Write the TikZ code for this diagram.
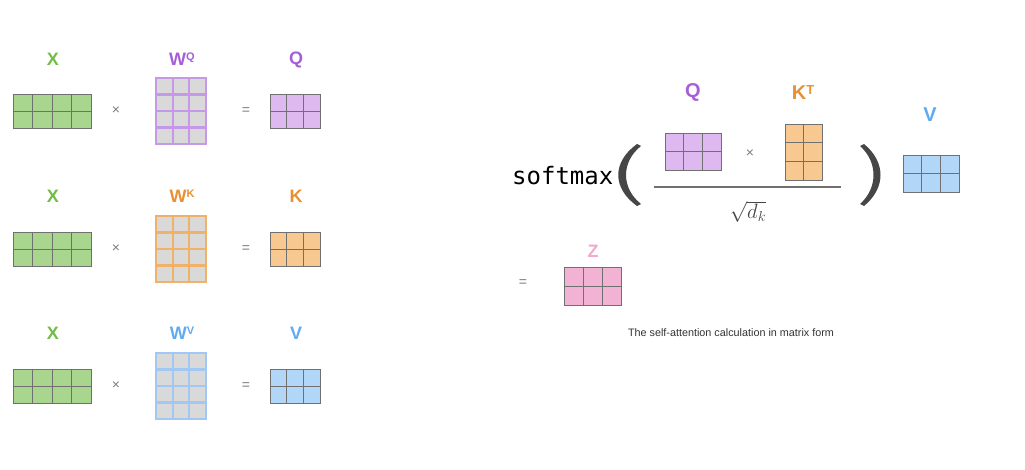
\documentclass[tikz,border=0pt]{standalone}
\usepackage{fontspec}
\setmainfont{Liberation Sans}
\newfontfamily\monofont{DejaVu Sans Mono}
\usetikzlibrary{calc}
\definecolor{greenfill}{RGB}{168,214,143}
\definecolor{greenlab}{RGB}{112,190,68}
\definecolor{purpfill}{RGB}{221,185,240}
\definecolor{purpline}{RGB}{200,152,232}
\definecolor{purplab}{RGB}{165,95,215}
\definecolor{orfill}{RGB}{248,200,145}
\definecolor{orline}{RGB}{240,178,105}
\definecolor{orlab}{RGB}{232,145,50}
\definecolor{blfill}{RGB}{178,214,247}
\definecolor{blline}{RGB}{160,200,242}
\definecolor{bllab}{RGB}{95,170,240}
\definecolor{pkfill}{RGB}{242,178,212}
\definecolor{pklab}{RGB}{240,170,205}
\definecolor{cellgrey}{RGB}{217,217,217}
\definecolor{gridgrey}{RGB}{112,112,112}
\definecolor{opgrey}{RGB}{125,125,125}
\definecolor{pargrey}{RGB}{70,70,70}
\newcommand\mtx[8]{%
  \node[#8, inner sep=0pt, outer sep=0pt, minimum width={#4*#6*1pt}, minimum height={#5*#7*1pt}, anchor=north west] (#1) at (#2,#3) {};
  \foreach \i in {1,...,#4}{\draw[#8,fill=none] ([xshift={\i*#6*1pt}]#1.north west) -- ([xshift={\i*#6*1pt}]#1.south west);}
  \foreach \i in {1,...,#5}{\draw[#8,fill=none] ([yshift={-\i*#7*1pt}]#1.north west) -- ([yshift={-\i*#7*1pt}]#1.north east);}
}
\tikzset{
  gm/.style={fill=greenfill, draw=gridgrey, line width=0.9pt},
  pm/.style={fill=purpfill, draw=gridgrey, line width=0.9pt},
  om/.style={fill=orfill, draw=gridgrey, line width=0.9pt},
  bm/.style={fill=blfill, draw=gridgrey, line width=0.9pt},
  km/.style={fill=pkfill, draw=gridgrey, line width=0.9pt},
  wp/.style={fill=cellgrey, draw=purpline, line width=2.2pt},
  wo/.style={fill=cellgrey, draw=orline, line width=2.2pt},
  wb/.style={fill=cellgrey, draw=blline, line width=2.2pt},
  lab/.style={inner sep=0pt, font=\fontsize{18}{18}\selectfont\bfseries},
  rlab/.style={inner sep=0pt, font=\fontsize{20}{20}\selectfont\bfseries},
  op/.style={inner sep=0pt, text=opgrey, font=\fontsize{14}{14}\selectfont},
  paren/.style={fill=pargrey, draw=none},
}
\newcommand\supl[1]{{\fontsize{11}{11}\selectfont\raisebox{5pt}{#1}}}
\newcommand\supr[1]{{\fontsize{13}{13}\selectfont\raisebox{5pt}{#1}}}
\begin{document}
\begin{tikzpicture}[x=1pt,y=-1pt]
\useasboundingbox[fill=white] (0,0) rectangle (1025,470);
% ---- left: three rows
\mtx{x1}{13}{94}{4}{2}{19.5}{17}{gm}
\mtx{wq}{156}{78}{3}{4}{16.67}{16.5}{wp}
\mtx{q1}{270}{94}{3}{2}{16.67}{17}{pm}
\node[lab, text=greenlab] (lx1) at (53,59.5) {X};
\node[lab, text=purplab] (lwq) at (182,59.5) {W\supl{Q}};
\node[lab, text=purplab] (lq1) at (296,59.5) {Q};
\node[op] (t1) at (116,111) {×};
\node[op] (e1) at (246,111) {=};
%
\mtx{x2}{13}{232}{4}{2}{19.5}{17}{gm}
\mtx{wk}{156}{216}{3}{4}{16.67}{16.5}{wo}
\mtx{k1}{270}{232}{3}{2}{16.67}{17}{om}
\node[lab, text=greenlab] (lx2) at (53,196.5) {X};
\node[lab, text=orlab] (lwk) at (182,196.5) {W\supl{K}};
\node[lab, text=orlab] (lk1) at (296,196.5) {K};
\node[op] (t2) at (116,249) {×};
\node[op] (e2) at (246,249) {=};
%
\mtx{x3}{13}{369}{4}{2}{19.5}{17}{gm}
\mtx{wv}{156}{353}{3}{4}{16.67}{16.5}{wb}
\mtx{v1}{270}{369}{3}{2}{16.67}{17}{bm}
\node[lab, text=greenlab] (lx3) at (53,333.5) {X};
\node[lab, text=bllab] (lwv) at (182,333.5) {W\supl{V}};
\node[lab, text=bllab] (lv1) at (296,333.5) {V};
\node[op] (t3) at (116,386) {×};
\node[op] (e3) at (246,386) {=};
% ---- right: formula
\node[inner sep=0pt, anchor=base west, font=\monofont\fontsize{24}{24}\selectfont] (sm) at (512,185) {softmax};
\fill[paren] (637,144) .. controls (612,162) and (612,188) .. (637,206) -- (641,204) .. controls (621,188) and (621,162) .. (641,146) -- cycle;
\fill[paren] (864,144) .. controls (886,162) and (886,188) .. (864,206) -- (860,204) .. controls (878,188) and (878,162) .. (860,146) -- cycle;
\mtx{q2}{665}{133}{3}{2}{18.67}{18.5}{pm}
\mtx{kt}{785}{124}{2}{3}{18.5}{18.67}{om}
\mtx{v2}{903}{155}{3}{2}{18.67}{18.5}{bm}
\node[rlab, text=purplab] (lq2) at (693,92.5) {Q};
\node[rlab, text=orlab] (lkt) at (803,92.5) {K\supr{T}};
\node[rlab, text=bllab] (lv2) at (930,114.5) {V};
\node[op] (t4) at (750,154) {×};
\coordinate (fl) at (654,187);
\coordinate (fr) at (841,187);
\draw[line width=1.3pt, draw=gridgrey] (fl) -- (fr);
\node[inner sep=0pt, text=pargrey, font=\fontsize{21}{21}\selectfont] (dk) at (748,212) {$\sqrt{d_k}$};
\node[op] (e4) at (523,283) {=};
\mtx{z}{564}{267}{3}{2}{19}{19}{km}
\node[lab, text=pklab] (lz) at (593,251.5) {Z};
\node[inner sep=0pt, text=black!80, font=\fontsize{10.8}{10.8}\selectfont] (cap) at (731,333) {The self-attention calculation in matrix form};
\end{tikzpicture}
\end{document}
